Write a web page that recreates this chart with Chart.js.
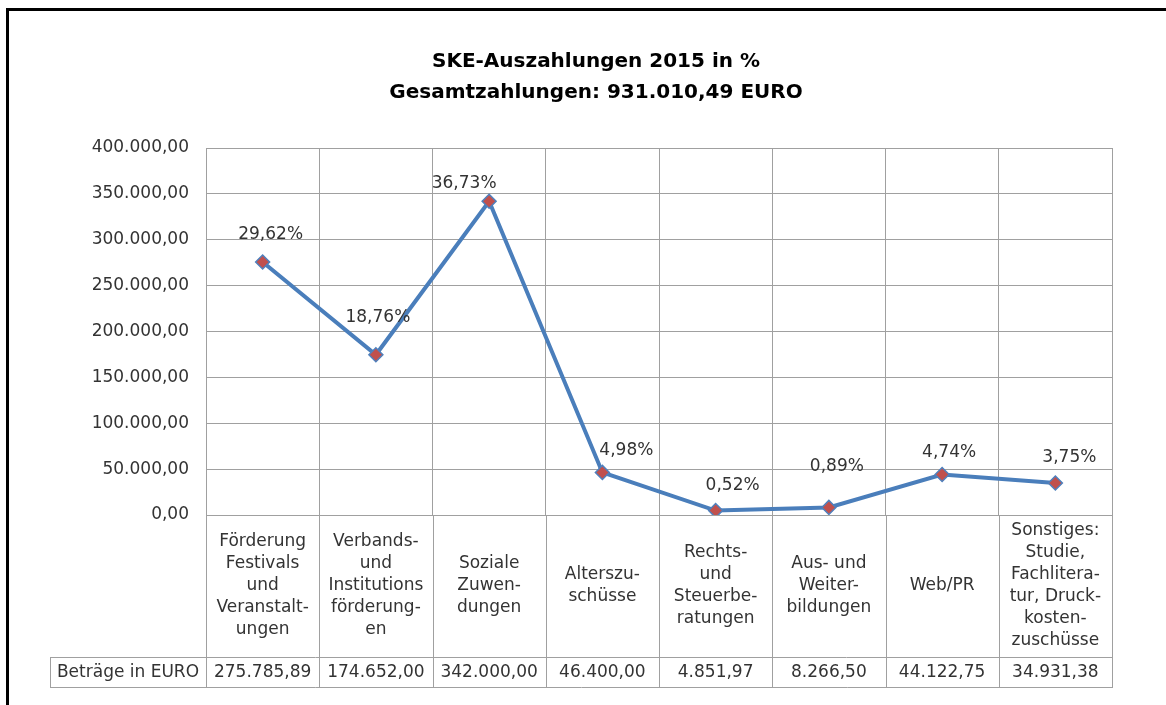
<!DOCTYPE html>
<html lang="de">
<head>
<meta charset="utf-8">
<title>SKE-Auszahlungen 2015</title>
<script src="https://cdn.jsdelivr.net/npm/chart.js@4.4.1/dist/chart.umd.min.js"></script>
<style>
  html, body { margin: 0; padding: 0; background: #fff; }
  body { width: 1166px; height: 705px; overflow: hidden; position: relative; }
  #frame { position: absolute; left: 6px; top: 8px; width: 1220px; height: 740px;
           border-top: 3px solid #000; border-left: 3px solid #000; }
  #chart { position: absolute; left: 0; top: 0; }
</style>
</head>
<body>
<div id="frame"></div>
<canvas id="chart" width="1166" height="705"></canvas>
<script>
// Daten
const categories = [
  ["Förderung", "Festivals", "und", "Veranstalt-", "ungen"],
  ["Verbands-", "und", "Institutions", "förderung-", "en"],
  ["Soziale", "Zuwen-", "dungen"],
  ["Alterszu-", "schüsse"],
  ["Rechts-", "und", "Steuerbe-", "ratungen"],
  ["Aus- und", "Weiter-", "bildungen"],
  ["Web/PR"],
  ["Sonstiges:", "Studie,", "Fachlitera-", "tur, Druck-", "kosten-", "zuschüsse"]
];
const amounts = [275785.89, 174652.00, 342000.00, 46400.00, 4851.97, 8266.50, 44122.75, 34931.38];
const rowLabel = "Beträge in EURO";
const titleLines = ["SKE-Auszahlungen 2015 in %", "Gesamtzahlungen: 931.010,49 EURO"];
const yMin = 0, yMax = 400000, yStep = 50000;

// Verschiebung der Prozent-Labels relativ zum Punkt (wie im Original)
const labelNudge = [[8, -27], [2, -37], [-25, -18], [24, -22], [17, -25], [8, -41], [7, -22], [14, -25]];

const total = amounts.reduce((a, b) => a + b, 0);

function fmtDE(v) {
  const [int, dec] = v.toFixed(2).split(".");
  return int.replace(/\B(?=(\d{3})+(?!\d))/g, ".") + "," + dec;
}
function fmtPct(v) {
  return (v / total * 100).toFixed(2).replace(".", ",") + "%";
}

const FONT = "'DejaVu Sans', sans-serif";
const TEXT = "#333";
const GRID = "#a0a0a0";

// Prozent-Beschriftung + Tabelle unter der Grafik
const tablePlugin = {
  id: "dataTable",
  afterDatasetsDraw(chart) {
    const ctx = chart.ctx;
    const meta = chart.getDatasetMeta(0);
    ctx.save();
    ctx.font = "17px " + FONT;
    ctx.fillStyle = TEXT;
    ctx.textAlign = "center";
    ctx.textBaseline = "middle";
    meta.data.forEach((pt, i) => {
      const [dx, dy] = labelNudge[i];
      ctx.fillText(fmtPct(amounts[i]), pt.x + dx, pt.y + dy);
    });
    ctx.restore();
  },
  afterDraw(chart) {
    const ctx = chart.ctx;
    const { left, right, bottom } = chart.chartArea;
    const n = categories.length;
    const colW = (right - left) / n;
    const catH = 142, rowH = 30, headLeft = 50, lineH = 22;
    const rowTop = bottom + catH, rowBot = rowTop + rowH;

    ctx.save();
    ctx.strokeStyle = GRID;
    ctx.lineWidth = 1;
    ctx.beginPath();
    for (let i = 0; i <= n; i++) {
      const x = Math.round(left + i * colW) + 0.5;
      ctx.moveTo(x, bottom);
      ctx.lineTo(x, rowBot);
    }
    ctx.moveTo(headLeft, rowTop + 0.5);
    ctx.lineTo(right, rowTop + 0.5);
    ctx.moveTo(headLeft, rowBot + 0.5);
    ctx.lineTo(right + 1, rowBot + 0.5);
    ctx.moveTo(headLeft + 0.5, rowTop);
    ctx.lineTo(headLeft + 0.5, rowBot);
    ctx.stroke();

    ctx.font = "17px " + FONT;
    ctx.fillStyle = TEXT;
    ctx.textAlign = "center";
    ctx.textBaseline = "middle";
    const xs = chart.scales.x;
    categories.forEach((lines, i) => {
      const cx = xs.getPixelForValue(i);
      const cy = bottom + catH / 2;
      const y0 = cy - (lines.length - 1) * lineH / 2;
      lines.forEach((t, j) => ctx.fillText(t, cx, y0 + j * lineH));
      ctx.fillText(fmtDE(amounts[i]), cx, rowTop + rowH / 2 + 1);
    });
    ctx.fillText(rowLabel, (headLeft + left) / 2, rowTop + rowH / 2 + 1);
    ctx.restore();
  }
};

new Chart(document.getElementById("chart"), {
  type: "line",
  data: {
    labels: categories.map(c => c.join(" ")),
    datasets: [{
      data: amounts,
      borderColor: "#4A7EBB",
      borderWidth: 4,
      tension: 0,
      pointStyle: "rectRot",
      pointRadius: 7,
      pointBackgroundColor: "#C0504D",
      pointBorderColor: "#4F81BD",
      pointBorderWidth: 1.5
    }]
  },
  options: {
    responsive: false,
    animation: false,
    devicePixelRatio: 1,
    layout: { padding: { left: 26, right: 0, top: 0, bottom: 0 } },
    plugins: {
      legend: { display: false },
      tooltip: { enabled: false },
      title: {
        display: true,
        text: titleLines,
        color: "#000",
        font: { family: FONT, size: 20, weight: "bold", lineHeight: 1.55 },
        padding: { top: 46.5, bottom: 39.5 }
      }
    },
    scales: {
      x: {
        offset: true,
        grid: { offset: true, color: GRID, drawTicks: false },
        border: { color: GRID },
        ticks: { display: false },
        afterFit: s => { s.height = 190; }
      },
      y: {
        min: yMin,
        max: yMax,
        grid: { color: GRID, drawTicks: false },
        border: { color: GRID },
        ticks: {
          stepSize: yStep,
          padding: 17,
          color: TEXT,
          font: { family: FONT, size: 17 },
          callback: v => fmtDE(v)
        },
        afterFit: s => { s.width = 180; }
      },
      // leerer Rand rechts, damit der Titel wie im Original sitzt
      yRight: {
        position: "right",
        min: yMin,
        max: yMax,
        grid: { drawOnChartArea: false, drawTicks: false },
        border: { display: false },
        ticks: { display: false },
        afterFit: s => { s.width = 54; }
      }
    }
  },
  plugins: [tablePlugin]
});
</script>
</body>
</html>
